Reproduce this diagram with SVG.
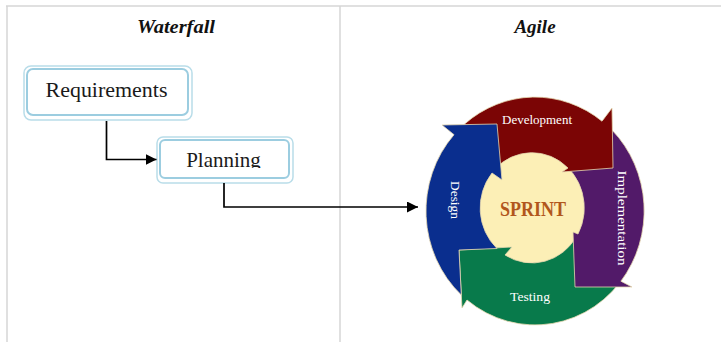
<svg xmlns="http://www.w3.org/2000/svg" width="721" height="342" viewBox="0 0 721 342">
  <style>
    .rule { stroke: #d6d6d6; stroke-width: 1.5; fill: none; }
    .title { font-family: "Liberation Serif", "DejaVu Serif", serif; font-style: italic; font-weight: bold; font-size: 19px; fill: #111; text-anchor: middle; }
    .box-outer { fill: #ffffff; stroke: #b9dde9; stroke-width: 1.5; }
    .box-inner { fill: #ffffff; stroke: #9ccde0; stroke-width: 2; }
    .box-text { font-family: "Liberation Serif", "DejaVu Serif", serif; font-size: 21px; fill: #1a1a1a; text-anchor: middle; }
    .link { stroke: #000; stroke-width: 1.7; fill: none; }
    .seg { stroke: #e6d8b0; stroke-width: 0.8; stroke-linejoin: miter; }
    .seg-label { font-family: "Liberation Serif", "DejaVu Serif", serif; font-size: 12px; fill: #ffffff; text-anchor: middle; }
    .hub-text { font-family: "Liberation Serif", "DejaVu Serif", serif; font-size: 21px; font-weight: bold; fill: #b1561c; text-anchor: middle; }
  </style>
  <defs>
    <marker id="arrow" viewBox="0 0 10 10" refX="10" refY="5" markerWidth="11" markerHeight="11" markerUnits="userSpaceOnUse" orient="auto">
      <path d="M0,0 L10,5 L0,10 z" fill="#000"/>
    </marker>
    <clipPath id="planning-clip">
      <rect x="158" y="138" width="134" height="30"/>
    </clipPath>
  </defs>

  <rect width="721" height="342" fill="#ffffff"/>

  <!-- table rules -->
  <g id="table">
    <line class="rule" x1="6" y1="6" x2="721" y2="6"/>
    <line class="rule" x1="7" y1="6" x2="7" y2="342"/>
    <line class="rule" x1="340" y1="6" x2="340" y2="342"/>
  </g>

  <g id="waterfall-title">
    <text class="title" x="176" y="33" textLength="78" lengthAdjust="spacingAndGlyphs">Waterfall</text>
  </g>
  <g id="agile-title">
    <text class="title" x="535" y="33">Agile</text>
  </g>

  <!-- waterfall steps -->
  <g id="requirements">
    <rect class="box-outer" x="24" y="66" width="168" height="54" rx="7"/>
    <rect class="box-inner" x="27" y="69" width="161" height="46" rx="6"/>
    <text class="box-text" x="106.5" y="97" textLength="122" lengthAdjust="spacingAndGlyphs">Requirements</text>
  </g>
  <g id="planning">
    <rect class="box-outer" x="157" y="137" width="136" height="46" rx="6"/>
    <rect class="box-inner" x="160" y="140" width="129" height="38" rx="5"/>
    <text class="box-text" x="223.5" y="167" clip-path="url(#planning-clip)">Planning</text>
  </g>

  <!-- sprint cycle -->
  <g id="sprint-cycle">
    <ellipse id="sprint-hub" cx="532" cy="208" rx="53" ry="56" fill="#fcefb6"/>
    <g id="testing">
      <path class="seg" fill="#087a4b" d="M626.4,273.1 A109,114 0 0 1 467,300 L462,308 L459,250 L512,247 L505,255 A52,55 0 0 0 577,235.5 Z"/>
    </g>
    <g id="implementation">
      <path class="seg" fill="#521a69" d="M612,130 A109,114 0 0 1 620.9,281.2 L632,287 L575,287 L573,232 L578,234 A52,55 0 0 0 558,160 Z"/>
    </g>
    <g id="development">
      <path class="seg" fill="#7b0505" d="M464.6,124 A109,114 0 0 1 602,121.2 L612,108 L613,168 L562,172 L568,168 A52,55 0 0 0 495,169 Z"/>
    </g>
    <g id="design">
      <path class="seg" fill="#0a2e8e" d="M461.3,295 A109,114 0 0 1 454,134.7 L442,125 L497,124 L502,180 L492,173 A52,55 0 0 0 497,248.5 L459,250 Z"/>
    </g>
    <g id="cycle-labels">
      <text class="seg-label" x="537" y="124" textLength="70" lengthAdjust="spacingAndGlyphs">Development</text>
      <text class="seg-label" transform="translate(455,200) rotate(90)" x="0" y="4" textLength="38" lengthAdjust="spacingAndGlyphs">Design</text>
      <text class="seg-label" transform="translate(622,218) rotate(90)" x="0" y="4" textLength="95" lengthAdjust="spacingAndGlyphs">Implementation</text>
      <text class="seg-label" x="530" y="301" font-size="13" textLength="40" lengthAdjust="spacingAndGlyphs">Testing</text>
      <text class="hub-text" x="533" y="215.5" textLength="66" lengthAdjust="spacingAndGlyphs">SPRINT</text>
    </g>
  </g>

  <!-- connectors -->
  <g id="connectors">
    <path class="link" d="M106.5,121 V159.5 H156.5" marker-end="url(#arrow)"/>
    <path class="link" d="M224,183 V207 H418" marker-end="url(#arrow)"/>
  </g>
</svg>
